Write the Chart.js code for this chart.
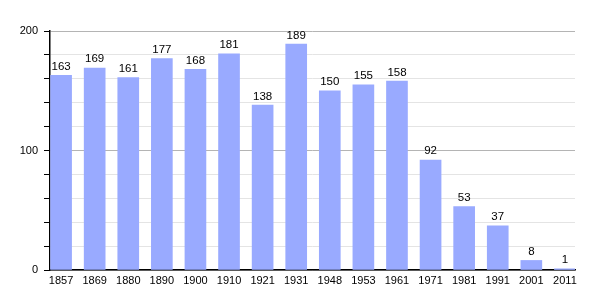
<!DOCTYPE html>
<html>
<head>
<meta charset="utf-8">
<script src="https://cdn.jsdelivr.net/npm/chart.js@4"></script>
<style>
  html, body { margin: 0; padding: 0; background: #fff; }
  #wrap { width: 605px; height: 300px; }
</style>
</head>
<body>
<div id="wrap"><canvas id="grafico"></canvas></div>
<script>
// DATOS
const annees = ["1857", "1869", "1880", "1890", "1900", "1910", "1921", "1931",
  "1948", "1953", "1961", "1971", "1981", "1991", "2001", "2011"];
const habitants = [163, 169, 161, 177, 168, 181, 138, 189, 150, 155, 158, 92, 53, 37, 8, 1];
const ticksY = [0, 100, 200];

// ETIQUETAS SOBRE LAS BARRAS
const etiquetas = {
  id: "etiquetas",
  afterDatasetsDraw(chart) {
    const ctx = chart.ctx;
    const meta = chart.getDatasetMeta(0);
    ctx.save();
    ctx.font = "11.5px 'Liberation Sans', Arial, sans-serif";
    ctx.fillStyle = "#000";
    ctx.textAlign = "center";
    ctx.textBaseline = "bottom";
    meta.data.forEach((bar, i) => {
      ctx.fillText(habitants[i], bar.x, bar.y - 3);
    });
    ctx.restore();
  }
};

new Chart(document.getElementById("grafico"), {
  type: "bar",
  data: {
    datasets: [{
      data: habitants.map((v, i) => ({ x: i, y: v })),
      backgroundColor: "#99aaff",
      barThickness: 21
    }]
  },
  options: {
    responsive: true,
    maintainAspectRatio: false,
    animation: false,
    layout: { padding: { top: 31, right: 30, left: 0, bottom: 0 } },
    plugins: {
      legend: { display: false },
      tooltip: { enabled: false }
    },
    scales: {
      x: {
        type: "linear",
        offset: false,
        min: -0.33,
        max: 15.3,
        afterBuildTicks: axis => {
          axis.ticks = annees.map((a, i) => ({ value: i }));
        },
        afterFit: scale => { scale.height = 30; },
        grid: { display: false, drawTicks: false },
        border: { color: "#000", width: 1.5 },
        ticks: {
          color: "#000",
          padding: 4,
          maxRotation: 0,
          autoSkip: false,
          font: { family: "'Liberation Sans', Arial, sans-serif", size: 11 },
          callback: v => annees[v]
        }
      },
      y: {
        min: 0,
        max: 200,
        afterBuildTicks: axis => {
          const t = [];
          for (let v = 0; v <= 200; v += 20) t.push({ value: v });
          axis.ticks = t;
        },
        afterFit: scale => { scale.width = 50; },
        grid: {
          color: c => (c.tick && ticksY.includes(c.tick.value)) ? "#b4b4b4" : "#e4e4e4",
          tickColor: "#000",
          tickLength: 6,
          lineWidth: 1
        },
        border: { color: "#000", width: 1.5 },
        ticks: {
          color: "#000",
          padding: 6,
          font: { family: "'Liberation Sans', Arial, sans-serif", size: 11 },
          callback: v => ticksY.includes(v) ? v : ""
        }
      }
    }
  },
  plugins: [etiquetas]
});
</script>
</body>
</html>
